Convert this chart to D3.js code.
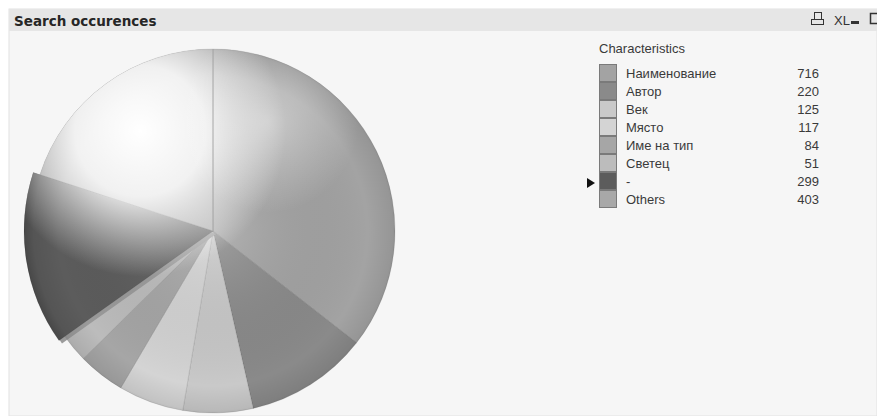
<!DOCTYPE html>
<html>
<head>
<meta charset="utf-8">
<script src="https://cdn.jsdelivr.net/npm/d3@7"></script>
<style>
  body { margin: 0; background: #fff; }
  svg { display: block; }
  .title { font-family: "DejaVu Sans", Verdana, sans-serif; font-weight: bold; font-size: 13.5px; fill: #262626; }
  .legend text { font-family: "Liberation Sans", Arial, sans-serif; font-size: 13px; fill: #3a3a3a; }
</style>
</head>
<body>
<svg id="chart" width="877" height="416"></svg>
<script>
const categories = ['Наименование', 'Автор', 'Век', 'Място', 'Име на тип', 'Светец', '-', 'Others'];
const values = [716, 220, 125, 117, 84, 51, 299, 403];
const colors = ['#a3a3a3', '#8a8a8a', '#c9c9c9', '#d4d4d4', '#a6a6a6', '#bcbcbc', '#5c5c5c', '#a8a8a8'];
const selected = '-';

const svg = d3.select('#chart'),
    width = +svg.attr('width'),
    height = +svg.attr('height');

const pie = { cx: 213, cy: 231, r: 182, pop: 7 };
const legendPos = { x: 599, y: 64, row: 18, valueX: 819 };

const defs = svg.append('defs');

// panel + caption bar
svg.append('rect')
    .attr('x', 9).attr('y', 9).attr('width', width - 9).attr('height', height - 9)
    .attr('fill', '#f6f6f6').attr('stroke', '#e2e2e2');
svg.append('rect')
    .attr('x', 9).attr('y', 9).attr('width', width - 9).attr('height', 22)
    .attr('fill', '#e6e6e6');
svg.append('text')
    .attr('class', 'title')
    .attr('x', 14).attr('y', 26)
    .text('Search occurences');

// caption icons (print, XL, minimize, maximize)
const icons = svg.append('g').attr('stroke', '#333').attr('fill', 'none');
icons.append('rect').attr('x', 814.5).attr('y', 12.5).attr('width', 7).attr('height', 7);
icons.append('rect').attr('x', 811.5).attr('y', 19.5).attr('width', 12).attr('height', 5);
svg.append('text')
    .attr('x', 834).attr('y', 25)
    .style('font-family', '"Liberation Sans Narrow", "Liberation Sans", sans-serif')
    .style('font-size', '13px').attr('fill', '#333')
    .text('XL');
svg.append('rect').attr('x', 851).attr('y', 21).attr('width', 8).attr('height', 3).attr('fill', '#333');
icons.append('rect').attr('x', 870.5).attr('y', 13.5).attr('width', 9).attr('height', 10).attr('stroke-width', 1.5);

// gradients for the glossy sphere look
const hi = defs.append('radialGradient').attr('id', 'hi')
    .attr('gradientUnits', 'userSpaceOnUse')
    .attr('cx', pie.cx - 0.4 * pie.r).attr('cy', pie.cy - 0.55 * pie.r).attr('r', pie.r * 0.8);
hi.append('stop').attr('offset', '0%').attr('stop-color', '#fff').attr('stop-opacity', 1);
hi.append('stop').attr('offset', '45%').attr('stop-color', '#fff').attr('stop-opacity', 0.85);
hi.append('stop').attr('offset', '100%').attr('stop-color', '#fff').attr('stop-opacity', 0);

const hi2 = defs.append('radialGradient').attr('id', 'hi2')
    .attr('gradientUnits', 'userSpaceOnUse')
    .attr('cx', pie.cx + 0.3 * pie.r).attr('cy', pie.cy - 0.6 * pie.r).attr('r', pie.r * 0.5);
hi2.append('stop').attr('offset', '0%').attr('stop-color', '#fff').attr('stop-opacity', 0.45);
hi2.append('stop').attr('offset', '100%').attr('stop-color', '#fff').attr('stop-opacity', 0);

const rim = defs.append('radialGradient').attr('id', 'rim')
    .attr('gradientUnits', 'userSpaceOnUse')
    .attr('cx', pie.cx).attr('cy', pie.cy).attr('r', pie.r + pie.pop);
rim.append('stop').attr('offset', '0%').attr('stop-color', '#fff').attr('stop-opacity', 0.2);
rim.append('stop').attr('offset', '82%').attr('stop-color', '#000').attr('stop-opacity', 0);
rim.append('stop').attr('offset', '95%').attr('stop-color', '#000').attr('stop-opacity', 0.08);
rim.append('stop').attr('offset', '100%').attr('stop-color', '#000').attr('stop-opacity', 0.22);

const arcs = d3.pie().sort(null).value(d => d)(values);
const arc = d3.arc().innerRadius(0)
    .outerRadius((d, i) => categories[i] === selected ? pie.r + pie.pop : pie.r);

const clip = defs.append('clipPath').attr('id', 'pieclip');
clip.selectAll('path').data(arcs).enter().append('path')
    .attr('transform', 'translate(' + pie.cx + ',' + pie.cy + ')')
    .attr('d', (d, i) => arc(d, i));

const g = svg.append('g').attr('transform', 'translate(' + pie.cx + ',' + pie.cy + ')');

g.selectAll('path.slice')
    .data(arcs)
  .enter().append('path')
    .attr('class', 'slice')
    .attr('d', (d, i) => arc(d, i))
    .attr('fill', (d, i) => colors[i])
    .attr('stroke', 'rgba(0,0,0,0.12)')
    .attr('stroke-width', 0.8);

// side edge of the popped slice
const popIdx = categories.indexOf(selected);
g.append('path')
    .attr('transform', 'translate(3,3)')
    .attr('d', arc(arcs[popIdx], popIdx))
    .attr('fill', '#9a9a9a');
g.selectAll('path.slice').filter((d, i) => i === popIdx).raise();

const shade = svg.append('g').attr('clip-path', 'url(#pieclip)');
shade.append('rect').attr('x', 0).attr('y', 0).attr('width', 440).attr('height', height).attr('fill', 'url(#rim)');
shade.append('rect').attr('x', 0).attr('y', 0).attr('width', 440).attr('height', height).attr('fill', 'url(#hi)');
shade.append('rect').attr('x', 0).attr('y', 0).attr('width', 440).attr('height', height).attr('fill', 'url(#hi2)');

// thin divider at 12 o'clock
svg.append('line')
    .attr('x1', pie.cx).attr('y1', pie.cy).attr('x2', pie.cx).attr('y2', pie.cy - pie.r)
    .attr('stroke', '#a8a8a8').attr('stroke-width', 1);

// legend
const legend = svg.append('g').attr('class', 'legend');
legend.append('text')
    .attr('x', legendPos.x).attr('y', legendPos.y - 11)
    .text('Characteristics');

const item = legend.selectAll('g.item')
    .data(categories)
  .enter().append('g')
    .attr('class', 'item')
    .attr('transform', (d, i) => 'translate(0,' + (legendPos.y + i * legendPos.row) + ')');

item.append('rect')
    .attr('x', legendPos.x + 0.5).attr('y', 0.5)
    .attr('width', 17).attr('height', legendPos.row - 1)
    .attr('fill', (d, i) => colors[i])
    .attr('stroke', '#7a7a7a');

item.append('text')
    .attr('x', legendPos.x + 27).attr('y', 14)
    .text(d => d);

item.append('text')
    .attr('x', legendPos.valueX).attr('y', 14)
    .attr('text-anchor', 'end')
    .text((d, i) => values[i]);

legend.append('path')
    .attr('d', 'M587,178 L595,183 L587,188 Z')
    .attr('fill', '#111')
    .attr('transform', 'translate(0,' + (popIdx - 6) * legendPos.row + ')');
</script>
</body>
</html>
